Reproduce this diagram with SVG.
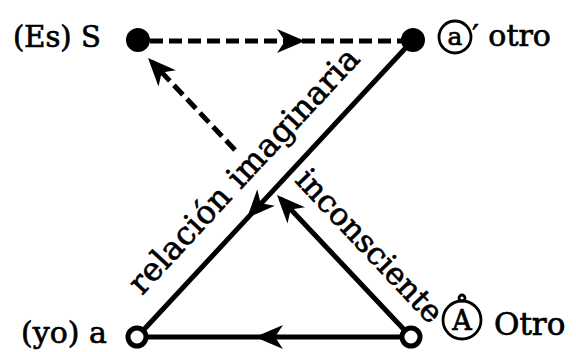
<svg xmlns="http://www.w3.org/2000/svg" xmlns:xlink="http://www.w3.org/1999/xlink" width="576" height="352" viewBox="0 0 576 352">
<style>
.lbl{font-family:"DejaVu Serif","Liberation Serif",serif;fill:#000;stroke:#000;stroke-width:0.7}
.solid{stroke:#000;stroke-width:5;fill:none}
.dash{stroke:#000;stroke-width:5;fill:none;stroke-dasharray:13 6}
.ah{fill:#000}
.full{fill:#000}
.open{fill:#fff;stroke:#000;stroke-width:5}
.ring{fill:none;stroke:#000;stroke-width:2.8}
</style>
<defs>
<path id="ah" d="M0,0 L-28,-12 L-20,0 L-28,12 Z"/>
</defs>
<rect width="576" height="352" fill="#fff"/>
<g id="connectors">
<line class="dash" x1="150" y1="41" x2="402" y2="41"/>
<use href="#ah" class="ah" transform="translate(305,41)"/>
<line class="solid" x1="413" y1="40" x2="137" y2="337"/>
<use href="#ah" class="ah" transform="translate(247,218) rotate(132.9)"/>
<line class="solid" x1="411" y1="337" x2="137" y2="337"/>
<use href="#ah" class="ah" transform="translate(255,337) rotate(180)"/>
<line class="solid" x1="411" y1="337" x2="281" y2="199"/>
<use href="#ah" class="ah" transform="translate(277,195) rotate(-133.3)"/>
<line class="dash" x1="235" y1="150" x2="152" y2="62"/>
<use href="#ah" class="ah" transform="translate(148,58) rotate(-133.3)"/>
<text class="lbl" font-size="32" textLength="322" lengthAdjust="spacing" transform="translate(142,296) rotate(-47.1)">relación imaginaria</text>
<text class="lbl" font-size="31" transform="translate(294,181) rotate(46.7)">inconsciente</text>
</g>
<g id="node-S">
<circle class="full" cx="138" cy="40" r="12"/>
<text class="lbl" font-size="29" x="13" y="47">(Es) S</text>
</g>
<g id="node-a-prime">
<circle class="full" cx="413" cy="40" r="12"/>
<circle class="ring" cx="455" cy="37" r="16"/>
<text class="lbl" font-size="25" x="455" y="45" text-anchor="middle">a</text>
<text class="lbl" font-size="30" x="472" y="46">′ otro</text>
</g>
<g id="node-a">
<circle class="open" cx="137" cy="337" r="9"/>
<text class="lbl" font-size="30" x="21" y="343">(yo) a</text>
</g>
<g id="node-A">
<circle class="open" cx="411" cy="337" r="9"/>
<circle class="ring" cx="462" cy="320" r="19"/>
<circle class="ring" cx="462" cy="298" r="3"/>
<text class="lbl" font-size="27" x="462" y="330" text-anchor="middle">A</text>
<text class="lbl" font-size="31" x="494" y="335">Otro</text>
</g>
</svg>
